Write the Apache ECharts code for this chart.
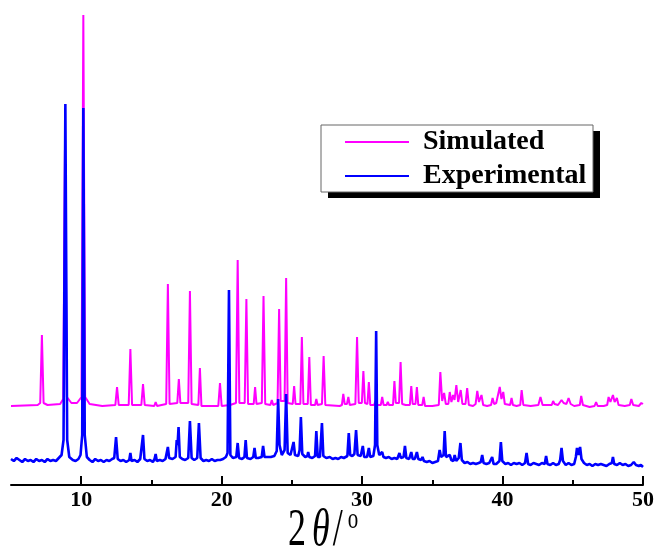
<!DOCTYPE html>
<html>
<head>
<meta charset="utf-8">
<script src="https://cdn.jsdelivr.net/npm/echarts@6/dist/echarts.min.js"></script>
<style>
html,body{margin:0;padding:0;background:#fff;}
#c{width:660px;height:553px;}
</style>
</head>
<body>
<div id="c"></div>
<script>
// Series names
const seriesNames = ['Simulated', 'Experimental'];
// x-axis tick labels (2θ, degrees) and minor ticks
const majorTicks = [10, 20, 30, 40, 50];
const minorTicks = [15, 25, 35, 45];
const xTitle = '{n|2}{i|θ}{sl|/}{s|o}';

// Simulated pattern [2θ, intensity a.u.] (offset trace)
const simulated = [
[5.0,79],[6.9,80],[7.08,82],[7.2,150],[7.32,82],[7.6,80],[8.5,81],[8.72,86],[8.84,335],[8.98,88],[9.3,82],[9.7,82],[10.02,88],[10.15,470],[10.28,88],[10.6,81],[11.5,79],
[12.43,80],[12.55,98],[12.67,80],
[13.38,80],[13.5,136],[13.62,80],
[14.28,80],[14.4,101],[14.52,80],
[15.2,79],[15.3,83],[15.4,79],
[16.05,81],[16.17,201],[16.29,81],
[16.84,82],[16.95,106],[17.06,82],
[17.62,82],[17.74,194],[17.86,81],
[18.34,80],[18.45,117],[18.56,79],
[19.76,79],[19.88,102],[20.0,79],
[20.6,80],
[21.02,82],[21.14,225],[21.26,82],
[21.64,82],[21.76,186],[21.88,81],
[22.28,81],[22.38,98],[22.48,81],
[22.86,82],[22.98,189],[23.1,81],
[23.47,80],[23.57,85],[23.67,80],
[23.98,82],[24.09,176],[24.2,84],
[24.48,84],[24.59,207],[24.7,82],
[25.06,81],[25.16,99],[25.26,81],
[25.6,81],[25.71,148],[25.82,81],
[26.13,81],[26.24,128],[26.35,80],
[26.65,80],[26.74,86],[26.83,80],
[27.14,81],[27.26,129],[27.38,80],
[28.4,79],
[28.56,80],[28.66,91],[28.76,81],[28.92,81],[29.02,88],[29.12,80],
[29.52,81],[29.64,148],[29.76,82],
[29.98,82],[30.09,114],[30.2,82],
[30.38,81],[30.48,103],[30.58,80],
[30.85,80],[30.95,84],[31.05,80],
[31.33,80],[31.43,88],[31.53,80],
[31.74,80],[31.83,83],[31.92,80],
[32.2,80],[32.3,104],[32.4,82],
[32.63,82],[32.74,123],[32.85,81],
[33.1,80],
[33.4,80],[33.5,99],[33.6,81],[33.8,81],[33.9,98],[34.0,80],
[34.28,80],[34.38,88],[34.48,79],
[35.0,79],
[35.46,80],[35.57,113],[35.7,84],[35.84,92],[35.96,81],
[36.14,81],[36.24,93],[36.36,83],[36.48,90],[36.58,85],[36.71,100],[36.84,83],[37.02,95],[37.14,81],[37.36,81],[37.48,97],[37.6,80],
[37.9,79],
[38.08,81],[38.2,94],[38.32,83],[38.5,90],[38.62,80],
[38.9,79],
[39.18,80],[39.29,87],[39.4,81],[39.55,82],[39.8,98],[39.92,86],[40.05,93],[40.16,81],
[40.54,80],[40.64,87],[40.74,80],
[41.0,79],
[41.26,80],[41.36,95],[41.48,80],
[42.0,79],
[42.55,80],[42.7,88],[42.85,80],
[43.2,80],
[43.5,80],[43.6,84],[43.7,81],[43.95,80],[44.2,85],[44.35,82],[44.55,81],[44.7,87],[44.85,81],
[45.1,79],
[45.5,80],[45.6,89],[45.72,80],
[46.2,78],
[46.55,79],[46.66,83],[46.77,79],
[47.2,79],
[47.45,80],[47.55,88],[47.68,83],[47.86,90],[47.98,83],[48.14,87],[48.26,80],
[48.7,79],
[49.06,80],[49.17,86],[49.3,80],
[49.7,79],[49.88,82],[50.0,81]
];

// Experimental pattern [2θ, intensity a.u.]
const experimental = [
[5.0,26],[5.2,24],[5.4,27],[5.6,25],[5.8,23],[6.0,26],[6.2,24],[6.4,25],[6.6,23],[6.8,26],[7.0,24],[7.2,25],[7.4,23],[7.6,26],[7.8,24],[8.0,25],[8.2,24],[8.4,27],[8.6,30],
[8.74,45],[8.87,381],[9.0,45],[9.15,28],[9.4,25],[9.6,24],[9.8,26],[9.95,30],
[10.07,50],[10.15,377],[10.25,50],[10.4,28],[10.6,25],[10.8,23],[11.0,26],[11.2,24],[11.4,25],[11.6,23],[11.8,25],[12.0,24],[12.2,26],[12.35,27],
[12.48,48],[12.6,26],[12.8,24],[13.0,25],[13.2,23],[13.42,25],[13.5,32],[13.58,24],[13.8,25],[14.0,23],[14.2,26],[14.32,27],[14.4,50],[14.5,26],[14.7,24],[14.9,25],[15.1,23],[15.22,26],[15.3,31],[15.38,24],[15.6,25],[15.8,24],[16.0,26],[16.08,28],[16.17,38],[16.26,27],[16.5,26],[16.72,28],[16.8,45],[16.86,40],[16.93,58],[17.02,28],[17.2,26],[17.4,25],[17.62,27],[17.74,64],[17.86,27],[18.05,25],[18.26,27],[18.38,62],[18.5,27],[18.7,24],[18.9,25],[19.1,24],[19.3,26],[19.5,24],[19.7,25],[19.9,25],[20.1,26],[20.3,28],[20.42,32],[20.52,195],[20.62,30],[20.8,27],[21.04,28],[21.14,42],[21.24,27],[21.45,26],[21.62,28],[21.71,45],[21.8,27],[22.05,26],[22.25,28],[22.34,37],[22.43,27],[22.6,27],[22.85,28],[22.95,39],[23.05,28],[23.3,28],[23.5,28],[23.75,29],[23.92,34],[24.02,86],[24.12,40],[24.28,30],[24.48,35],[24.59,91],[24.7,32],[24.9,30],[25.04,31],[25.12,43],[25.22,30],[25.45,29],[25.55,35],[25.64,68],[25.74,31],[25.95,28],[26.1,29],[26.16,33],[26.24,28],[26.45,27],[26.65,29],[26.74,54],[26.84,28],[27.0,28],[27.14,62],[27.24,29],[27.45,27],[27.7,28],[27.9,26],[28.1,27],[28.3,26],[28.5,28],[28.7,27],[28.95,29],[29.05,52],[29.15,30],[29.3,29],[29.45,31],[29.57,55],[29.68,30],[29.9,29],[30.05,39],[30.15,28],[30.35,28],[30.48,37],[30.58,28],[30.8,29],[30.92,40],[31.0,154],[31.08,40],[31.22,30],[31.35,29],[31.43,33],[31.52,28],[31.7,27],[31.9,28],[32.1,26],[32.3,27],[32.5,26],[32.66,32],[32.76,27],[32.95,28],[33.05,39],[33.15,27],[33.35,26],[33.5,33],[33.6,26],[33.75,26],[33.9,33],[34.0,26],[34.2,25],[34.3,28],[34.4,24],[34.6,23],[34.8,24],[35.0,22],[35.2,23],[35.4,24],[35.52,35],[35.62,28],[35.8,30],[35.88,54],[35.97,28],[36.1,26],[36.24,30],[36.35,25],[36.5,24],[36.59,30],[36.7,24],[36.88,27],[37.0,42],[37.1,25],[37.3,22],[37.5,23],[37.7,21],[37.9,22],[38.1,21],[38.3,22],[38.45,23],[38.55,30],[38.65,22],[38.85,21],[39.05,22],[39.26,28],[39.36,21],[39.55,21],[39.78,24],[39.88,43],[39.98,24],[40.2,21],[40.4,22],[40.6,20],[40.8,22],[41.0,21],[41.2,22],[41.4,20],[41.6,22],[41.71,32],[41.82,21],[42.0,20],[42.2,22],[42.4,21],[42.6,20],[42.8,22],[43.0,21],[43.1,29],[43.2,21],[43.4,20],[43.6,22],[43.8,20],[44.0,21],[44.1,25],[44.2,37],[44.3,24],[44.5,20],[44.7,22],[44.9,20],[45.1,21],[45.22,28],[45.3,37],[45.4,30],[45.52,38],[45.62,26],[45.8,22],[46.0,20],[46.2,21],[46.4,19],[46.6,21],[46.8,20],[47.0,21],[47.2,20],[47.4,19],[47.6,21],[47.78,22],[47.86,28],[47.95,21],[48.15,20],[48.35,22],[48.55,20],[48.75,21],[48.95,19],[49.15,20],[49.34,23],[49.5,20],[49.7,19],[49.85,20],[50.0,18]
];

const SERIF = '"Liberation Serif","Times New Roman",serif';
const chart = echarts.init(document.getElementById('c'), null, {renderer: 'canvas'});
chart.setOption({
  animation: false,
  backgroundColor: '#fff',
  grid: {left: 11, right: 17, top: 5, bottom: 68, containLabel: false, outerBoundsMode: 'none'},
  graphic: [
    {type: 'rect', z: 1, shape: {x: 328, y: 131, width: 272, height: 67}, style: {fill: '#000'}, silent: true},
    {type: 'rect', z: 2, shape: {x: 321, y: 125, width: 272, height: 67}, style: {fill: '#fff', stroke: '#666', lineWidth: 1}, silent: true},
    {type: 'text', z: 5, x: 288, y: 505, scaleY: 1.45, silent: true,
      style: {
        text: xTitle, align: 'left', verticalAlign: 'top',
        rich: {
          n: {fontFamily: SERIF, fontSize: 36, fill: '#000'},
          i: {fontFamily: SERIF, fontSize: 36, fontStyle: 'italic', fill: '#000', padding: [0, 3, 0, 6]},
          sl: {fontFamily: SERIF, fontSize: 36, fill: '#000', padding: [0, 2, 0, 0]},
          s: {fontFamily: SERIF, fontSize: 21, fill: '#000', verticalAlign: 'top', padding: [0, 0, 0, 3]}
        }
      }}
  ],
  legend: {
    orient: 'vertical',
    left: 321, top: 125,
    padding: [3, 5, 3, 24],
    itemWidth: 64, itemHeight: 2, itemGap: 6,
    icon: 'rect',
    z: 10,
    data: seriesNames,
    textStyle: {fontFamily: SERIF, fontSize: 28, fontWeight: 'bold', color: '#000', padding: [0, 0, 0, 9]}
  },
  xAxis: [{
    type: 'value', min: 5, max: 50,
    axisLine: {show: true, lineStyle: {color: '#000', width: 2}},
    axisTick: {show: true, inside: true, length: 9, lineStyle: {color: '#000', width: 2}, customValues: majorTicks},
    axisLabel: {customValues: majorTicks, fontFamily: SERIF, fontSize: 22, fontWeight: 'bold', color: '#000', margin: 4},
    splitLine: {show: false}
  }, {
    type: 'value', min: 5, max: 50, position: 'bottom',
    axisLine: {show: false},
    axisTick: {show: true, inside: true, length: 5, lineStyle: {color: '#000', width: 2}, customValues: minorTicks},
    axisLabel: {show: false},
    splitLine: {show: false}
  }],
  yAxis: {type: 'value', min: 0, max: 480, show: false},
  series: [{
    name: seriesNames[0], type: 'line', data: simulated, symbol: 'none',
    lineStyle: {color: '#FF00FF', width: 2}, itemStyle: {color: '#FF00FF'}, clip: true
  }, {
    name: seriesNames[1], type: 'line', data: experimental, symbol: 'none',
    lineStyle: {color: '#0000FF', width: 2.6}, itemStyle: {color: '#0000FF'}, clip: true
  }]
});
</script>
</body>
</html>
